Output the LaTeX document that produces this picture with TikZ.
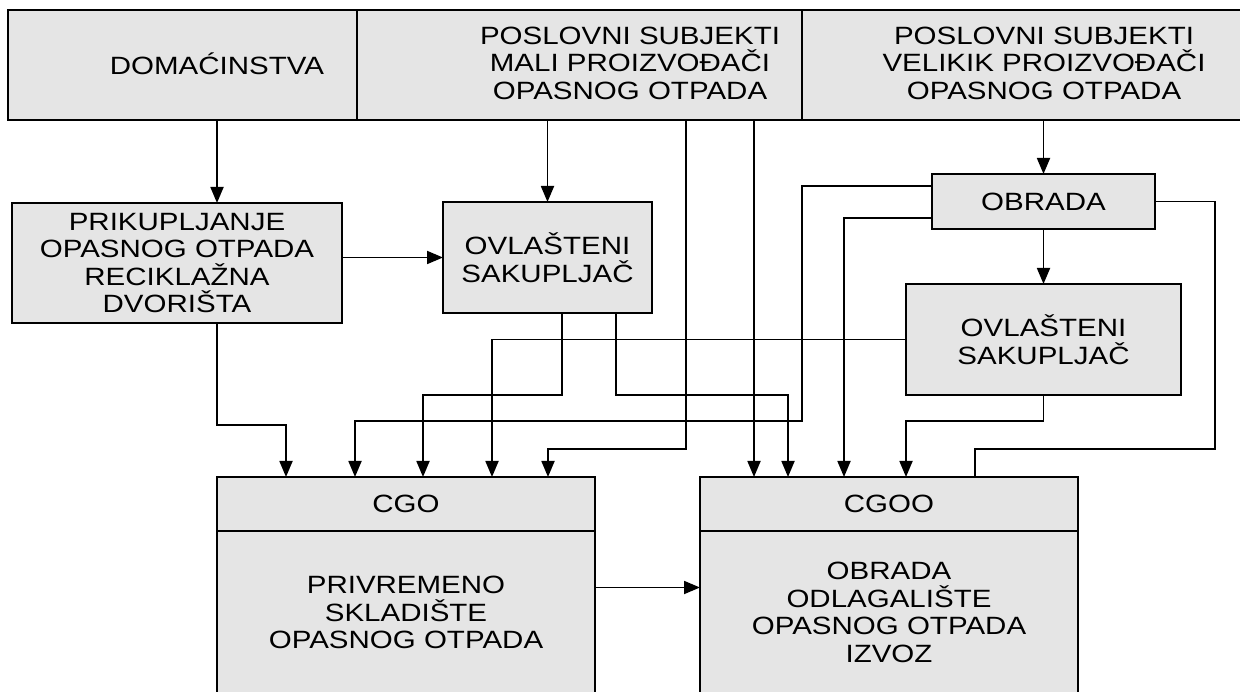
\documentclass[tikz,border=0pt]{standalone}
\usepackage{fontspec}
\setmainfont{Liberation Sans}[FakeStretch=1.18]
\usetikzlibrary{
    positioning,
    calc,
    arrows.meta
}
\tikzset{
  basic/.style = {
      draw,
      rectangle,
      fill=gray!20,
      line width=2pt,
      inner sep=0pt,
      outer sep=0pt,
      align=center,
      font=\fontsize{25}{27.6}\selectfont
  },
  cell/.style = {
      basic,
      minimum height=110pt
  },
  head/.style = {
      basic,
      minimum width=378pt,
      minimum height=54pt
  },
  body/.style = {
      basic,
      minimum width=378pt,
      minimum height=163pt
  },
  caption/.style = {
      align=center,
      font=\fontsize{25}{27.6}\selectfont
  },
  edge/.style = {
      line width=1.8pt
  },
  flow/.style = {
      edge,
      -{Triangle[length=16pt,width=13pt]}
  }
}
\begin{document}
\begin{tikzpicture}[x=1pt, y=1pt, node distance=0pt]
    \useasboundingbox (0,0) rectangle (1240,-692);
    % top row
    \node[cell, minimum width=349pt, anchor=north west] (dom) at (8,-10) {};
    \node[cell, minimum width=445pt, right=of dom] (mali) {};
    \node[cell, minimum width=488pt, right=of mali] (velik) {};
    \node[caption] (domtxt) at (217,-64) {DOMAĆINSTVA};
    \node[caption] (malitxt) at (630,-63) {POSLOVNI SUBJEKTI\\MALI PROIZVOĐAČI\\OPASNOG OTPADA};
    \node[caption] (veliktxt) at (1044,-63) {POSLOVNI SUBJEKTI\\VELIKIK PROIZVOĐAČI\\OPASNOG OTPADA};
    % middle row
    \node[basic, minimum width=330pt, minimum height=120pt] (prik) at (177,-263) {PRIKUPLJANJE\\OPASNOG OTPADA\\RECIKLAŽNA\\DVORIŠTA};
    \node[basic, minimum width=209pt, minimum height=111pt] (ovl1) at (547.5,-257.5) {OVLAŠTENI\\SAKUPLJAČ};
    \node[basic, minimum width=223pt, minimum height=55pt] (obrada) at (1043.5,-201.5) {OBRADA};
    \node[basic, minimum width=275pt, minimum height=111pt] (ovl2) at (1043.5,-339.5) {OVLAŠTENI\\SAKUPLJAČ};
    % bottom row
    \node[head, anchor=north west] (cgo) at (217,-477) {CGO};
    \node[body, below=of cgo] (cgobody) {PRIVREMENO\\SKLADIŠTE\\OPASNOG OTPADA};
    \node[head, anchor=north west] (cgoo) at (700,-477) {CGOO};
    \node[body, below=of cgoo] (cgoobody) {OBRADA\\ODLAGALIŠTE\\OPASNOG OTPADA\\IZVOZ};
    % entry points
    \foreach \n/\dx in {1/69, 2/138, 3/206, 4/275, 5/331}
        \coordinate (in\n) at ([xshift=\dx pt]cgo.north west);
    \foreach \n/\dx in {1/54, 2/88, 3/144, 4/206, 5/275}
        \coordinate (out\n) at ([xshift=\dx pt]cgoo.north west);
    % Edges
    \draw[flow] (domtxt |- dom.south) -- (domtxt |- prik.north);
    \draw[flow] (ovl1 |- mali.south) -- (ovl1.north);
    \draw[flow] (obrada |- velik.south) -- (obrada.north);
    \draw[flow] (obrada.south) -- (ovl2.north);
    \draw[flow] (prik.east |- ovl1.west) -- (ovl1.west);
    \draw[flow] (domtxt |- prik.south) -- ++(0,-102) -| (in1);
    \draw[flow] ([yshift=15.5pt]obrada.west) -| ++(-130,-235) -| (in2);
    \draw[flow] ([xshift=14.5pt]ovl1.south) -- ++(0,-82) -| (in3);
    \draw[flow] (ovl2.west) -| (in4);
    \draw[flow] ([xshift=106.5pt]mali.south) -- ++(0,-329) -| (in5);
    \draw[flow] (mali.south -| out1) -- (out1);
    \draw[flow] ([xshift=68.5pt]ovl1.south) -- ++(0,-82) -| (out2);
    \draw[flow] ([yshift=-16.5pt]obrada.west) -| (out3);
    \draw[flow] (ovl2.south) -- ++(0,-26) -| (out4);
    \draw[edge] (obrada.east) -| ++(60,-247.5) -| (out5);
    \draw[flow] ([yshift=25pt]cgobody.east) -- ([yshift=25pt]cgoobody.west);
\end{tikzpicture}
\end{document}
